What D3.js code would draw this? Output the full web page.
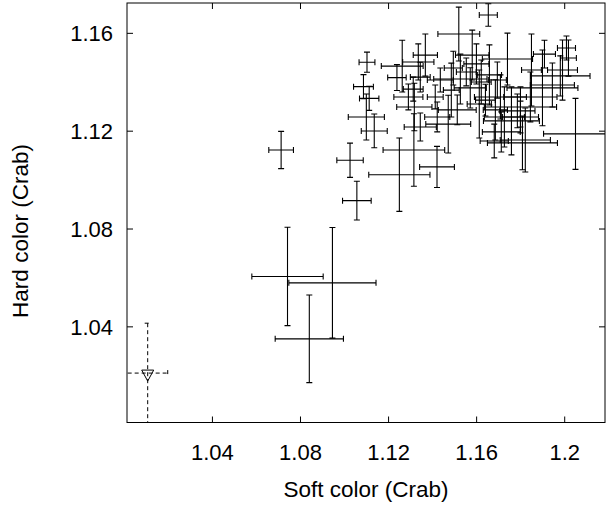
<!DOCTYPE html>
<html><head><meta charset="utf-8">
<script src="https://cdn.jsdelivr.net/npm/d3@7"></script>
<style>body{margin:0;background:#fff}svg{display:block}text{font-family:"Liberation Sans",Arial,sans-serif;fill:#000}</style>
</head><body>
<script>
// Detections: soft colour, hard colour and their 1-sigma errors (Crab units)
const softColor = [1.0712,1.0741,1.0945,1.0840,1.1056,1.1025,1.1249,1.1315,1.1420,1.1102,1.1086,1.1112,1.1099,1.1135,1.1238,1.1262,1.1367,1.1335,1.1344,1.1290,1.1317,1.1312,1.1412,1.1421,1.1471,1.1344,1.1485,1.1494,1.1526,1.1519,1.1653,1.1580,1.1599,1.1621,1.1571,1.1694,1.1685,1.1726,1.1658,1.1740,1.1849,1.1908,1.2008,1.1990,1.1980,1.1944,1.1899,1.2049,1.1808,1.1712,1.1680,1.1758,1.1785,1.1708,1.1799,1.1844,1.1799,1.1821,1.1512,1.1612,1.2017,1.1553,1.1640,1.1435];
const hardColor = [1.1123,1.0606,1.0580,1.0351,1.0916,1.1081,1.1022,1.1123,1.1054,1.1482,1.1382,1.1334,1.1258,1.1201,1.1419,1.1466,1.1511,1.1483,1.1421,1.1340,1.1299,1.1372,1.1340,1.1258,1.1229,1.1217,1.1368,1.1458,1.1413,1.1597,1.1675,1.1511,1.1475,1.1401,1.1377,1.1409,1.1287,1.1258,1.1430,1.1495,1.1450,1.1515,1.1540,1.1450,1.1426,1.1389,1.1377,1.1189,1.1152,1.1197,1.1160,1.1242,1.1283,1.1340,1.1299,1.1340,1.1258,1.1164,1.1287,1.1311,1.1499,1.1442,1.1327,1.1409];
const softErr = [0.0056,0.0162,0.0198,0.0155,0.0065,0.0060,0.0139,0.0140,0.0079,0.0036,0.0045,0.0044,0.0082,0.0059,0.0042,0.0095,0.0055,0.0071,0.0045,0.0066,0.0080,0.0045,0.0036,0.0057,0.0102,0.0073,0.0036,0.0041,0.0121,0.0095,0.0041,0.0076,0.0057,0.0045,0.0073,0.0041,0.0055,0.0091,0.0055,0.0114,0.0045,0.0050,0.0041,0.0068,0.0135,0.0100,0.0161,0.0145,0.0159,0.0086,0.0064,0.0127,0.0080,0.0118,0.0164,0.0121,0.0082,0.0114,0.0086,0.0055,0.0036,0.0045,0.0045,0.0059];
const hardErr = [0.0076,0.0201,0.0226,0.0179,0.0079,0.0070,0.0150,0.0148,0.0084,0.0041,0.0049,0.0049,0.0094,0.0069,0.0053,0.0106,0.0086,0.0074,0.0061,0.0053,0.0097,0.0049,0.0049,0.0061,0.0118,0.0057,0.0110,0.0069,0.0102,0.0110,0.0046,0.0102,0.0082,0.0090,0.0082,0.0074,0.0123,0.0123,0.0123,0.0106,0.0147,0.0057,0.0049,0.0123,0.0082,0.0090,0.0155,0.0145,0.0110,0.0082,0.0069,0.0139,0.0069,0.0090,0.0082,0.0102,0.0065,0.0131,0.0061,0.0139,0.0074,0.0057,0.0065,0.0049];
// Upper-limit point (dashed, open down-triangle)
const limitSoft = [1.0106];
const limitHard = [1.0211];
const limitSoftErr = [0.0091];
const limitHardUp = [0.0204];
const limitHardDown = [0.06];
// Axis ticks
const xTicks = [1.04,1.08,1.12,1.16,1.2];
const yTicks = [1.04,1.08,1.12,1.16];
const xTickLabels = ["1.04","1.08","1.12","1.16","1.2"];
const yTickLabels = ["1.04","1.08","1.12","1.16"];

const W=607,H=507;
const L=127,R=605,T=3,B=422.5;
const x=d3.scaleLinear().domain([1.0012,1.2183]).range([L,R]);
const y=d3.scaleLinear().domain([1.0009,1.1724]).range([B,T]);

const svg=d3.select("body").append("svg").attr("width",W).attr("height",H);
svg.append("defs").append("clipPath").attr("id","clip").append("rect")
  .attr("x",L).attr("y",T).attr("width",R-L).attr("height",B-T);

const g=svg.append("g").attr("clip-path","url(#clip)");
const cap=3;
const pts=softColor.map((s,i)=>({s,h:hardColor[i],es:softErr[i],eh:hardErr[i]}));
const eb=g.append("g").attr("stroke","#000").attr("stroke-width",1.1).attr("fill","none");
pts.forEach(p=>{
  const cx=x(p.s),cy=y(p.h),x0=x(p.s-p.es),x1=x(p.s+p.es),y0=y(p.h-p.eh),y1=y(p.h+p.eh);
  eb.append("path").attr("d",
    `M${x0},${cy}H${x1}M${x0},${cy-cap}V${cy+cap}M${x1},${cy-cap}V${cy+cap}`+
    `M${cx},${y0}V${y1}M${cx-cap},${y0}H${cx+cap}M${cx-cap},${y1}H${cx+cap}`);
});
// upper limit
limitSoft.forEach((s,i)=>{
  const h=limitHard[i];
  const cx=x(s),cy=y(h),x0=x(s-limitSoftErr[i]),x1=x(s+limitSoftErr[i]);
  const yt=y(h+limitHardUp[i]),yb=y(h-limitHardDown[i]);
  const lg=g.append("g").attr("stroke","#000").attr("stroke-width",1).attr("fill","none").attr("stroke-dasharray","4,3");
  lg.append("path").attr("d",`M${x0},${cy}H${x1}M${x1},${cy-cap}V${cy+cap}M${cx},${yt}V${yb}M${cx-cap},${yt}H${cx+cap}`);
  g.append("path").attr("d",`M${cx-6},${cy-3}L${cx+6},${cy-3}L${cx},${cy+8}Z`)
    .attr("fill","none").attr("stroke","#000").attr("stroke-width",1);
});

// frame and ticks
const ax=svg.append("g").attr("stroke","#000").attr("stroke-width",1).attr("fill","none");
ax.append("rect").attr("x",L).attr("y",T).attr("width",R-L).attr("height",B-T);
xTicks.forEach(t=>{
  ax.append("path").attr("d",`M${x(t)},${B}V${B-6}M${x(t)},${T}V${T+6}`);
});
yTicks.forEach(t=>{
  ax.append("path").attr("d",`M${L},${y(t)}H${L+6}M${R},${y(t)}H${R-6}`);
});
xTicks.forEach((t,i)=>{
  svg.append("text").attr("x",x(t)).attr("y",460).attr("text-anchor","middle")
    .attr("font-size",22).text(xTickLabels[i]);
});
yTicks.forEach((t,i)=>{
  svg.append("text").attr("x",113).attr("y",y(t)).attr("dy","0.36em").attr("text-anchor","end")
    .attr("font-size",22).text(yTickLabels[i]);
});
svg.append("text").attr("x",366).attr("y",497).attr("text-anchor","middle").attr("font-size",22.5).text("Soft color (Crab)");
svg.append("text").attr("transform","translate(28,231) rotate(-90)").attr("text-anchor","middle").attr("font-size",22.5).text("Hard color (Crab)");
</script>
</body></html>
